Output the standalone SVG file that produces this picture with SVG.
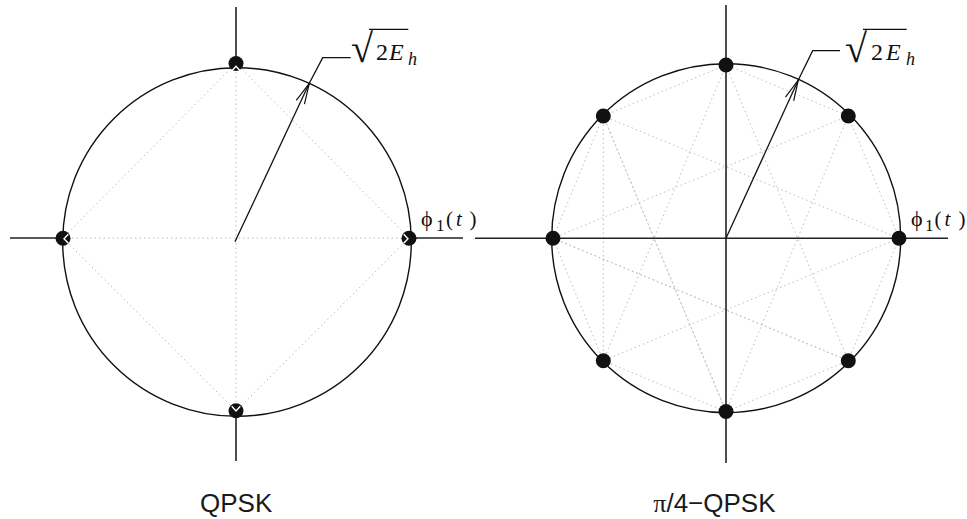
<svg xmlns="http://www.w3.org/2000/svg" width="967" height="519" viewBox="0 0 967 519">
<defs>
<style>
.circ{fill:none;stroke:#111;stroke-width:1.4}
.axis{stroke:#222;stroke-width:1.6}
.dt{stroke:#bdbdbd;stroke-width:1;stroke-dasharray:1.5 3;fill:none}
.pt{fill:#111}
.chev{fill:none;stroke:#fff;stroke-width:1.4}
.ln{fill:none;stroke:#111;stroke-width:1.3}
.serif{font-family:"Liberation Serif","Times New Roman",serif;fill:#111}
.sans{font-family:"Liberation Sans",Arial,sans-serif;fill:#1a1a1a;font-size:26px}
</style>
<marker id="ah" markerUnits="userSpaceOnUse" markerWidth="30" markerHeight="16" viewBox="-24 -8 26 16" refX="0" refY="0" orient="auto">
<path d="M-21,-4.5 L0,0 L-21,4.5" fill="none" stroke="#111" stroke-width="1.2"/>
</marker>
</defs>
<rect width="967" height="519" fill="#fff"/>

<g id="connectors">
<path class="dt" d="M236,63 L409,238 L236,411 L63,238 Z M63,238 L409,238 M236,63 L236,411"/>
<path class="dt" d="M899,238.3 L848.3,116 L726,65 L603.3,116 L553,238.3 L603.3,360.7 L726,411.5 L848.3,360.7 Z"/>
<path class="dt" d="M899,238.3 L603.3,116 L603.3,360.7 L899,238.3 M848.3,116 L553,238.3 L848.3,360.7 M726,65 L603.3,360.7 M726,65 L848.3,360.7 M603.3,116 L726,411.5 L848.3,116 M553,238.3 L848.3,360.7 M726,411.5 L603.3,116"/>
</g>

<g id="qpsk">
<circle class="circ" cx="237" cy="242" r="174.3"/>
<line class="axis" x1="236" y1="7" x2="236" y2="63"/>
<line class="axis" x1="236" y1="411" x2="236" y2="461"/>
<line class="axis" x1="10" y1="238" x2="63" y2="238"/>
<line class="axis" x1="409" y1="238" x2="463" y2="238"/>
<circle class="pt" cx="236" cy="63.5" r="7.5"/>
<circle class="pt" cx="63" cy="238.3" r="7.5"/>
<circle class="pt" cx="409" cy="238.3" r="7.5"/>
<circle class="pt" cx="236" cy="410.8" r="7.5"/>
<polyline class="chev" points="231.7,71 236,66.3 240.3,71"/>
<polyline class="chev" points="68.3,234.3 64,238.8 68.3,243.3"/>
<polyline class="chev" points="403.7,234.3 408,238.8 403.7,243.3"/>
<polyline class="chev" points="231.7,406.3 236,411 240.3,406.3"/>
<line class="ln" x1="235" y1="241.7" x2="309.3" y2="83.3" marker-end="url(#ah)"/>
<polyline class="ln" points="309.3,83.3 322.7,57.7 350.7,57.7"/>
<text class="serif" x="351" y="62" font-size="40">√</text>
<line class="ln" x1="369" y1="29.3" x2="408.3" y2="29.3"/>
<text class="serif" x="376" y="60" font-size="24">2</text>
<text class="serif" x="389" y="60" font-size="24" font-style="italic">E</text>
<text class="serif" x="408" y="65" font-size="18" font-style="italic">h</text>
<text class="serif" x="421" y="226" font-size="22">ϕ</text>
<text class="serif" x="436" y="231" font-size="17">1</text>
<text class="serif" x="446" y="226" font-size="21">(</text>
<text class="serif" x="456" y="226" font-size="21" font-style="italic">t</text>
<text class="serif" x="469.5" y="226" font-size="21">)</text>
<text class="sans" x="200" y="512">QPSK</text>
</g>

<g id="pi4qpsk">
<circle class="circ" cx="726.2" cy="238.2" r="174.5"/>
<line class="axis" x1="726" y1="5" x2="726" y2="463"/>
<line class="axis" x1="475" y1="238.3" x2="948" y2="238.3"/>
<circle class="pt" cx="726" cy="65" r="7.5"/>
<circle class="pt" cx="848.3" cy="116" r="7.5"/>
<circle class="pt" cx="899" cy="238.3" r="7.5"/>
<circle class="pt" cx="848.3" cy="360.7" r="7.5"/>
<circle class="pt" cx="726" cy="411.5" r="7.5"/>
<circle class="pt" cx="603.3" cy="360.7" r="7.5"/>
<circle class="pt" cx="553" cy="238.3" r="7.5"/>
<circle class="pt" cx="603.3" cy="116" r="7.5"/>
<line class="ln" x1="726" y1="238.3" x2="798.3" y2="80" marker-end="url(#ah)"/>
<polyline class="ln" points="798.3,80 812.7,50.7 840,50.7"/>
<text class="serif" x="845" y="62" font-size="40">√</text>
<line class="ln" x1="863" y1="29.3" x2="906.7" y2="29.3"/>
<text class="serif" x="871" y="60" font-size="24">2</text>
<text class="serif" x="886" y="60" font-size="24" font-style="italic">E</text>
<text class="serif" x="906" y="65" font-size="18" font-style="italic">h</text>
<text class="serif" x="911" y="226" font-size="22">ϕ</text>
<text class="serif" x="925" y="231" font-size="17">1</text>
<text class="serif" x="934.5" y="226" font-size="21">(</text>
<text class="serif" x="944.5" y="226" font-size="21" font-style="italic">t</text>
<text class="serif" x="958.5" y="226" font-size="21">)</text>
<text class="sans" x="653.3" y="512"><tspan font-family="Liberation Serif, serif">π</tspan>/4−QPSK</text>
</g>
</svg>
